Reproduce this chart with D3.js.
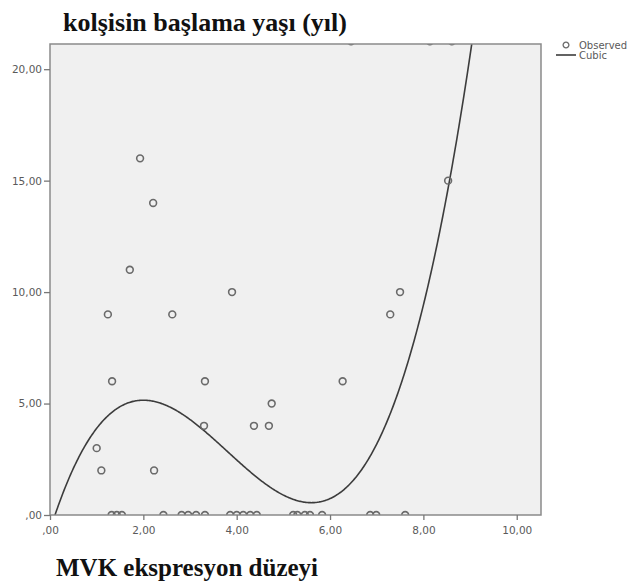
<!DOCTYPE html>
<html>
<head>
<meta charset="utf-8">
<script src="https://cdn.jsdelivr.net/npm/d3@7/dist/d3.min.js"></script>
<style>
  html, body { margin: 0; padding: 0; background: #ffffff; }
  svg { display: block; }
</style>
</head>
<body>
<svg id="chart" width="635" height="584"></svg>
<script>
// Observed values: MVK expression level (x) and colchicine start age in years (y)
const mvk = [
  1.93, 2.21, 1.71, 1.24, 2.62, 3.90, 1.33, 3.32, 6.27, 7.29, 7.50, 8.53,
  1.00, 1.10, 2.23, 3.30, 4.75, 4.37, 4.69,
  1.32, 1.43, 1.54, 2.43, 2.82, 2.96, 3.13, 3.32, 3.86, 4.00, 4.14, 4.29, 4.43,
  5.21, 5.30, 5.46, 5.57, 5.83, 6.86, 6.99, 7.61,
  6.45, 8.14, 8.61
];
const startAge = [
  16, 14, 11, 9, 9, 10, 6, 6, 6, 9, 10, 15,
  3, 2, 2, 4, 5, 4, 4,
  0, 0, 0, 0, 0, 0, 0, 0, 0, 0, 0, 0, 0,
  0, 0, 0, 0, 0, 0, 0, 0,
  21.25, 21.25, 21.25
];

// Cubic fit: b0 + b1*x + b2*x^2 + b3*x^3
const cubicCoef = [-0.687, 6.626, -2.248, 0.1972];

const xTicks = [0, 2, 4, 6, 8, 10];
const yTicks = [0, 5, 10, 15, 20];
const xDomain = [0, 10.52];
const yDomain = [0, 21.13];

const titleText = "kolşisin başlama yaşı (yıl)";
const xTitleText = "MVK ekspresyon düzeyi";
const legendItems = ["Observed", "Cubic"];

const svg = d3.select("#chart");
const plot = { left: 50, top: 44, right: 541, bottom: 515 };

const x = d3.scaleLinear().domain(xDomain).range([plot.left, plot.right]);
const y = d3.scaleLinear().domain(yDomain).range([plot.bottom, plot.top]);

const fmt = v => {
  const s = d3.format(".2f")(v).replace(".", ",");
  return v === 0 ? s.replace(/^0/, "") : s;
};

// plot background
svg.append("rect")
  .attr("x", plot.left).attr("y", plot.top)
  .attr("width", plot.right - plot.left)
  .attr("height", plot.bottom - plot.top)
  .attr("fill", "#f0f0f0");

svg.append("clipPath").attr("id", "plotClip")
  .append("rect")
  .attr("x", plot.left).attr("y", plot.top)
  .attr("width", plot.right - plot.left)
  .attr("height", plot.bottom - plot.top);

const inner = svg.append("g").attr("clip-path", "url(#plotClip)");

// fitted cubic curve
const fit = xv => cubicCoef.reduce((acc, c, i) => acc + c * Math.pow(xv, i), 0);
const curveX = d3.range(0, 10.5, 0.02);
inner.append("path")
  .datum(curveX)
  .attr("fill", "none")
  .attr("stroke", "#3c3c3c")
  .attr("stroke-width", 1.6)
  .attr("d", d3.line().x(d => x(d)).y(d => y(fit(d))));

// observed points
inner.selectAll("circle.obs")
  .data(mvk.map((v, i) => [v, startAge[i]]))
  .join("circle")
  .attr("class", "obs")
  .attr("cx", d => x(d[0]))
  .attr("cy", d => y(d[1]))
  .attr("r", 3.4)
  .attr("fill", "none")
  .attr("stroke", "#6a6a6a")
  .attr("stroke-width", 1.6);

// frame
svg.append("rect")
  .attr("x", plot.left).attr("y", plot.top)
  .attr("width", plot.right - plot.left)
  .attr("height", plot.bottom - plot.top)
  .attr("fill", "none")
  .attr("stroke", "#8a8a8a")
  .attr("stroke-width", 1.5);

// axes
const xAxis = svg.append("g")
  .attr("transform", `translate(0,${plot.bottom})`)
  .call(d3.axisBottom(x).tickValues(xTicks).tickFormat(fmt).tickSize(5).tickPadding(7));
const yAxis = svg.append("g")
  .attr("transform", `translate(${plot.left},0)`)
  .call(d3.axisLeft(y).tickValues(yTicks).tickFormat(fmt).tickSize(6).tickPadding(2));

[xAxis, yAxis].forEach(g => {
  g.select(".domain").remove();
  g.selectAll(".tick line").attr("stroke", "#777").attr("stroke-width", 1.3);
  g.selectAll(".tick text")
    .attr("fill", "#5a5a5a")
    .style("font-family", "'DejaVu Sans', sans-serif")
    .style("font-size", "10.5px");
});

// legend
const legend = svg.append("g").attr("transform", "translate(566,45)");
legend.append("circle")
  .attr("cx", 0).attr("cy", 0).attr("r", 2.9)
  .attr("fill", "none").attr("stroke", "#6a6a6a").attr("stroke-width", 1.3);
legend.append("line")
  .attr("x1", -10).attr("x2", 10).attr("y1", 10).attr("y2", 10)
  .attr("stroke", "#3c3c3c").attr("stroke-width", 1.6);
legend.selectAll("text")
  .data(legendItems)
  .join("text")
  .attr("x", 13)
  .attr("y", (d, i) => i * 10)
  .attr("dy", "0.35em")
  .attr("fill", "#5a5a5a")
  .style("font-family", "'DejaVu Sans', sans-serif")
  .style("font-size", "10px")
  .text(d => d);

// titles
svg.append("text")
  .attr("x", 63).attr("y", 31)
  .attr("fill", "#111")
  .style("font-family", "'Liberation Serif', serif")
  .style("font-weight", "bold")
  .style("font-size", "26px")
  .text(titleText);

svg.append("text")
  .attr("x", 56).attr("y", 576)
  .attr("fill", "#111")
  .style("font-family", "'Liberation Serif', serif")
  .style("font-weight", "bold")
  .style("font-size", "25px")
  .text(xTitleText);
</script>
</body>
</html>
